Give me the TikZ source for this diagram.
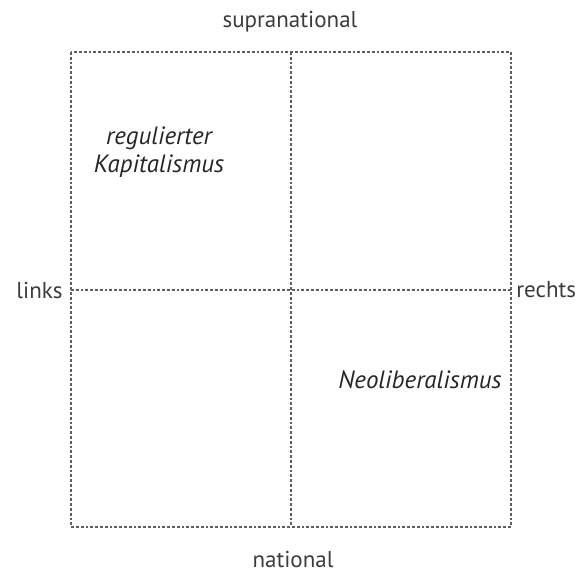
\documentclass[tikz,border=0pt]{standalone}
\usepackage{fontspec}
\setmainfont{PT Sans}
\usetikzlibrary{positioning}
\definecolor{gridgray}{RGB}{95,95,95}
\definecolor{labelgray}{RGB}{60,60,60}

\begin{document}
\begin{tikzpicture}[
    x=0.5pt, y=-0.5pt,
    grid/.style={draw=gridgray, line width=0.75pt, dash pattern=on 1.4pt off 1pt},
    axislabel/.style={font=\fontsize{11.5}{13}\selectfont, text=labelgray, inner sep=0pt},
    field/.style={font=\itshape\fontsize{12.5}{14}\selectfont, text=black!85, align=center, inner sep=0pt}
]
    \useasboundingbox (0,0) rectangle (576,571);

    % corners and middle points of the square
    \coordinate (tl) at (71,52);
    \coordinate (tr) at (511,52);
    \coordinate (bl) at (71,527);
    \coordinate (br) at (511,527);
    \coordinate (tm) at (291,52);
    \coordinate (bm) at (291,527);
    \coordinate (lm) at (71,290);
    \coordinate (rm) at (511,290);

    \draw[grid] (tl) rectangle (br);
    \draw[grid] (tm) -- (bm);
    \draw[grid] (lm) -- (rm);

    % axes
    \node[axislabel] (supra) at (290,22) {supranational};
    \node[axislabel] (nat) at (293,559) {national};
    \node[axislabel, left=4pt of lm] (links) {links};
    \node[axislabel, right=2.5pt of rm] (rechts) {rechts};

    % fields
    \node[field] (regkap) at (159,152) {regulierter\\Kapitalismus};
    \node[field] (neolib) at (420,380) {Neoliberalismus};
\end{tikzpicture}
\end{document}
